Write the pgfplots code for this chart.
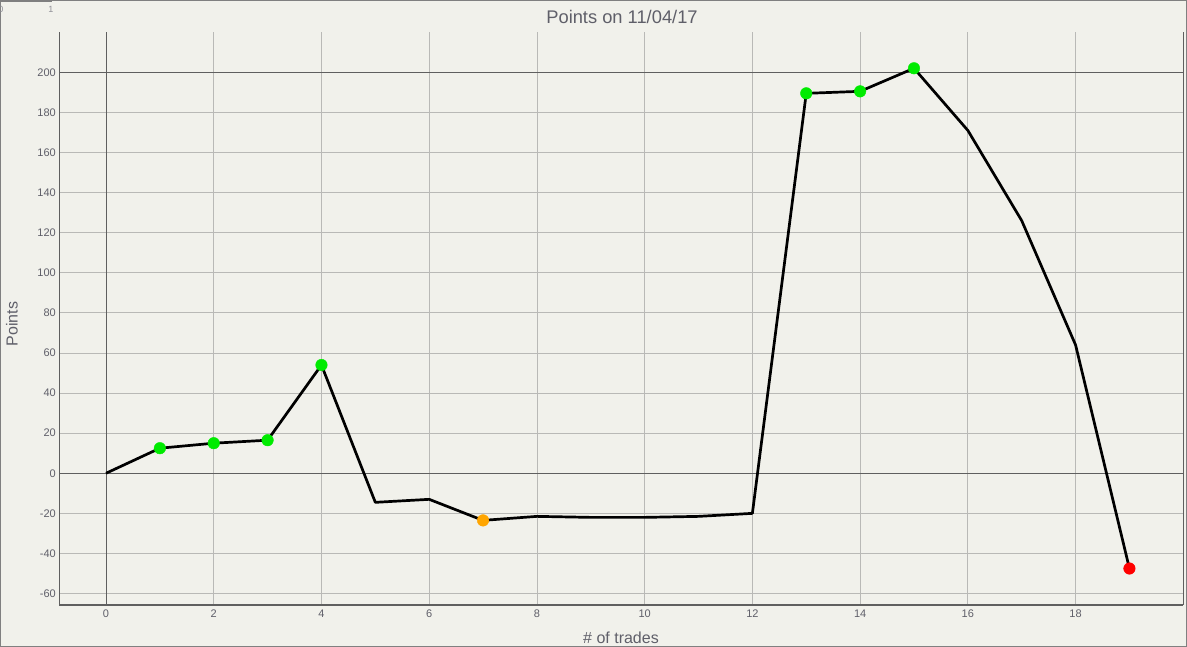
\documentclass[border=0pt]{standalone}
\usepackage{fontspec}
\setmainfont{Liberation Sans}
\usepackage{pgfplots}
\pgfplotsset{compat=1.18}
\definecolor{bg}{RGB}{241,241,235}
\definecolor{gridc}{RGB}{185,185,182}
\definecolor{darkc}{RGB}{95,95,95}
\definecolor{txt}{RGB}{95,95,105}
\definecolor{ptgreen}{RGB}{0,235,0}
\definecolor{ptorange}{RGB}{255,165,0}
\definecolor{ptred}{RGB}{255,0,0}
\begin{document}
\begin{tikzpicture}[x=1pt,y=1pt]
\useasboundingbox (0,0) rectangle (1187,647);
\fill[bg] (0,0) rectangle (1187,647);
\draw[gray,line width=1.2pt] (0.6,0.6) rectangle (1186.4,646.4);
\draw[darkc!80,line width=2pt] (0,646) -- (52,646);
\node[text=txt!70,font=\fontsize{9}{10}\selectfont] at (1,638) {0};
\node[text=txt!70,font=\fontsize{9}{10}\selectfont] at (51,638) {1};
\node[text=txt,font=\fontsize{18.3}{20}\selectfont] at (622,630) {Points on 11/04/17};
\node[text=txt,font=\fontsize{16}{18}\selectfont] at (621,9) {\# of trades};
\node[text=txt,font=\fontsize{16}{18}\selectfont,rotate=90] at (12,323) {Points};
\begin{axis}[
  at={(59.3pt,42pt)}, anchor=south west,
  scale only axis, width=1124pt, height=573pt,
  xmin=-0.867, xmax=20, ymin=-65.7, ymax=220.1,
  xtick={0,2,...,18}, ytick={-60,-40,...,200},
  grid=major, grid style={gridc, line width=0.8pt},
  major tick length=0pt,
  axis line style={draw=none},
  tick label style={text=txt, font=\fontsize{11}{12}\selectfont},
  xticklabel style={yshift=-1pt},
  /pgf/number format/assume math mode=true,
  clip=false,
]
\draw[darkc,line width=1.1pt] (axis cs:-0.867,-65.7) -- (axis cs:-0.867,220.1);
\draw[darkc,line width=1.1pt] (axis cs:-0.867,-65.7) -- (axis cs:20,-65.7);
\draw[darkc,line width=1.1pt] (axis cs:20,-65.7) -- (axis cs:20,220.1);
\draw[darkc,line width=0.8pt] (axis cs:0,-65.7) -- (axis cs:0,220.1);
\draw[darkc,line width=0.8pt] (axis cs:-0.867,0) -- (axis cs:20,0);
\draw[darkc,line width=0.8pt] (axis cs:-0.867,200) -- (axis cs:20,200);
\addplot[black, line width=2.7pt, no markers, line join=round] coordinates {
(0,0) (1,12.5) (2,15) (3,16.5) (4,54) (5,-14.5) (6,-13) (7,-23.5) (8,-21.5) (9,-22) (10,-22) (11,-21.5) (12,-20) (13,189.5) (14,190.5) (15,202) (16,171) (17,126) (18,64) (19,-47.5)
};
\addplot[only marks, mark=*, mark size=5.8pt, color=ptgreen, fill=ptgreen, draw=ptgreen] coordinates {
(1,12.5) (2,15) (3,16.5) (4,54) (13,189.5) (14,190.5) (15,202)
};
\addplot[only marks, mark=*, mark size=5.8pt, color=ptorange, fill=ptorange, draw=ptorange] coordinates {
(7,-23.5)
};
\addplot[only marks, mark=*, mark size=5.8pt, color=ptred, fill=ptred, draw=ptred] coordinates {
(19,-47.5)
};
\end{axis}
\end{tikzpicture}
\end{document}
